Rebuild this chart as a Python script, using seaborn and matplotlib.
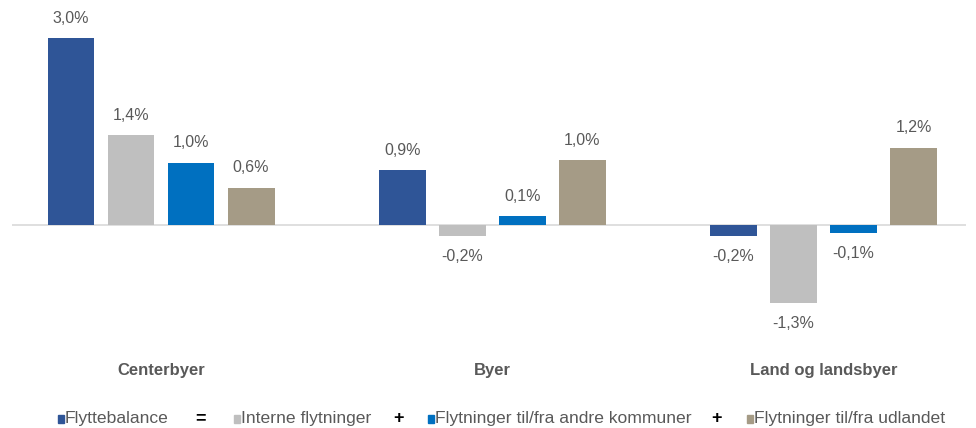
import matplotlib
matplotlib.use("Agg")
import matplotlib.pyplot as plt
import seaborn as sns
import pandas as pd
from matplotlib.patches import Rectangle

categories = ["Centerbyer", "Byer", "Land og landsbyer"]
series = ["Flyttebalance", "Interne flytninger",
          "Flytninger til/fra andre kommuner", "Flytninger til/fra udlandet"]
flyttebalance = [3.0, 0.88, -0.18]
interne = [1.44, -0.18, -1.26]
andre_kommuner = [1.0, 0.14, -0.13]
udlandet = [0.6, 1.04, 1.24]
colors = ["#2F5597", "#BFBFBF", "#0070C0", "#A59B86"]

rows = []
for s, vals in zip(series, [flyttebalance, interne, andre_kommuner, udlandet]):
    for c, v in zip(categories, vals):
        rows.append({"Kategori": c, "Serie": s, "Værdi": v})
df = pd.DataFrame(rows)

sns.set_theme(style="white")
plt.rcParams["font.family"] = ["Liberation Sans", "DejaVu Sans"]
txt = "#595959"

fig = plt.figure(figsize=(9.76, 4.28), dpi=100)
ax = fig.add_axes([12/976, 73/428, (966-12)/976, 355/428])
sns.barplot(data=df, x="Kategori", y="Værdi", hue="Serie", order=categories,
            hue_order=series, palette=colors, width=0.725, gap=0.22,
            legend=False, ax=ax, saturation=1, edgecolor="none")

ax.set_xlim(-0.45, 2.43)
ax.set_ylim(-130/62.3, 225/62.3)
ax.axhline(0, color="#D9D9D9", lw=1.2, zorder=0)
for sp in ax.spines.values():
    sp.set_visible(False)
ax.set_yticks([])
ax.set_xlabel("")
ax.set_ylabel("")
ax.tick_params(axis="x", length=0, pad=6)
ax.set_xticks(range(len(categories)))
ax.set_xticklabels(categories, fontsize=12, fontweight="bold", color=txt)

for cont in ax.containers:
    labels = [f"{b.get_height():.1f}%".replace(".", ",") for b in cont]
    ax.bar_label(cont, labels=labels, padding=9, fontsize=11.5, color=txt)

# legend
ly = 1 - 419/428
items = [(58, series[0]), (234, series[1]), (428, series[2]), (747, series[3])]
for (x, lab), col in zip(items, colors):
    fig.patches.append(Rectangle((x/976, ly - 4/428), 6/976, 8/428,
                                 transform=fig.transFigure, color=col))
    fig.text((x + 7)/976, ly, lab, fontsize=12.6, color=txt, va="center", ha="left")
for x, sym in [(200, "="), (398, "+"), (716, "+")]:
    fig.text(x/976, ly, sym, fontsize=13, fontweight="bold", color="black",
             va="center", ha="center")

fig.savefig("out.png", dpi=100)
